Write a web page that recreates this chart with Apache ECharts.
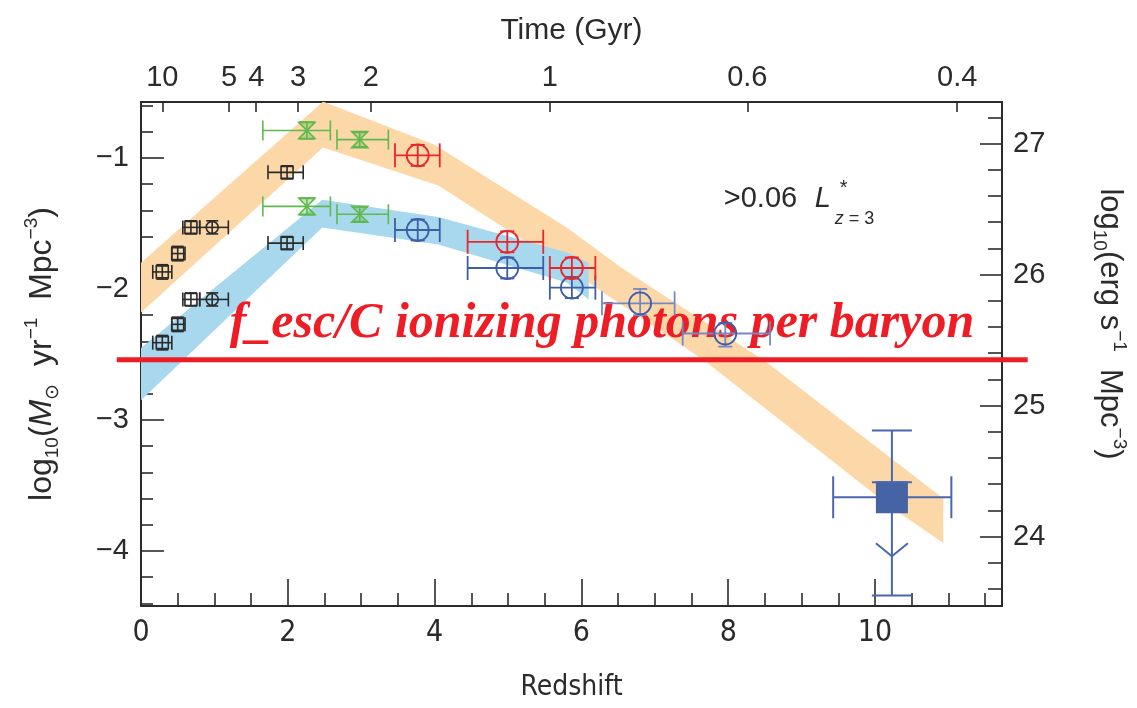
<!DOCTYPE html>
<html>
<head>
<meta charset="utf-8">
<title>Cosmic star-formation rate density</title>
<script src="https://cdn.jsdelivr.net/npm/echarts@6/dist/echarts.min.js"></script>
<style>
  html, body { margin: 0; padding: 0; background: #ffffff; }
  #chart { width: 1137px; height: 708px; }
</style>
</head>
<body>
<div id="chart"></div>
<script>
// ---- axis ranges -------------------------------------------------------
const X_MIN = 0, X_MAX = 11.73;          // redshift
const Y_MIN = -4.42, Y_MAX = -0.573;     // log10 SFR density
const LUM_OFFSET = 27.89;                // log10 UV luminosity density = log10 SFRD + offset

// ---- tick values and labels -------------------------------------------
const redshiftTicks = [0, 2, 4, 6, 8, 10];
const redshiftMinorTicks = [0.5, 1, 1.5, 2.5, 3, 3.5, 4.5, 5, 5.5, 6.5, 7, 7.5, 8.5, 9, 9.5, 10.5, 11, 11.5];
const sfrTicks = [-4, -3, -2, -1];
const sfrMinorTicks = [-4.4, -4.2, -3.8, -3.6, -3.4, -3.2, -2.8, -2.6, -2.4, -2.2, -1.8, -1.6, -1.4, -1.2, -0.8, -0.6];
const lumTicks = [24, 25, 26, 27];
const lumMinorTicks = [23.6, 23.8, 24.2, 24.4, 24.6, 24.8, 25.2, 25.4, 25.6, 25.8, 26.2, 26.4, 26.6, 26.8, 27.2];
const timeTickLabels = ['10', '5', '4', '3', '2', '1', '0.6', '0.4'];
const timeTickRedshifts = [0.29, 1.20, 1.57, 2.14, 3.13, 5.57, 8.26, 11.12];

// ---- model bands: [redshift, log10 SFRD] along upper and lower edges ---
const totalBandUpper = [[0, -1.80], [2.48, -0.57], [4.0, -0.90], [5.8, -1.53], [6.55, -1.84], [8.5, -2.55], [10.93, -3.60]];
const totalBandLower = [[0, -2.18], [2.48, -0.92], [4.05, -1.21], [5.8, -1.84], [7.66, -2.54], [10.23, -3.67], [10.93, -3.94]];
const observedBandUpper = [[0, -2.45], [2.47, -1.32], [4.05, -1.45], [5.8, -1.72], [6.1, -1.80]];
const observedBandLower = [[0, -2.85], [2.47, -1.53], [4.05, -1.66], [5.8, -1.95], [6.1, -2.08]];

// ---- UV-selected samples at z < 2.5 (black) ---------------------------
const lowZ_z      = [0.29, 0.50, 0.68, 0.97, 1.99];
const lowZ_zLo    = [0.16, 0.42, 0.57, 0.80, 1.73];
const lowZ_zHi    = [0.42, 0.60, 0.80, 1.19, 2.21];
const lowZ_dust   = [-1.87, -1.73, -1.53, -1.53, -1.11];
const lowZ_obs    = [-2.41, -2.27, -2.08, -2.08, -1.65];
const lowZ_err    = [0.055, 0.055, 0.05, 0.05, 0.05];
const lowZ_marker = ['square', 'square', 'square', 'circle', 'square'];

// ---- z ~ 2-3 LBG samples (green) --------------------------------------
const midZ_z    = [2.26, 2.98];
const midZ_zLo  = [1.66, 2.67];
const midZ_zHi  = [2.58, 3.37];
const midZ_dust = [-0.79, -0.86];
const midZ_obs  = [-1.37, -1.43];
const midZ_err  = [0.065, 0.055];

// ---- z ~ 4-6 dropouts: dust corrected (red) and observed (blue) --------
const hiZ_z    = [3.77, 4.99, 5.87];
const hiZ_zLo  = [3.46, 4.45, 5.57];
const hiZ_zHi  = [4.07, 5.48, 6.19];
const hiZ_dust = [-0.98, -1.64, -1.84];
const hiZ_obs  = [-1.55, -1.84, -1.99];
const hiZ_err  = [0.08, 0.08, 0.08];

// ---- z ~ 7-8 dropouts (observed) --------------------------------------
const z78_z   = [6.80, 7.96];
const z78_zLo = [6.28, 7.38];
const z78_zHi = [7.27, 8.57];
const z78_v   = [-2.11, -2.34];
const z78_vLo = [-2.20, -2.44];
const z78_vHi = [-2.00, -2.26];

// ---- z ~ 10 candidate (upper limit) -----------------------------------
const z10_z     = [10.23];
const z10_zLo   = [9.43];
const z10_zHi   = [11.04];
const z10_v     = [-3.59];
const z10_vLo   = [-4.34];
const z10_vHi   = [-3.08];
const z10_arrow = [-4.04];

// ---- ionizing photon budget level -------------------------------------
const photonBudgetLevel = -2.54;
const photonBudgetSpan = [-0.33, 12.08];

// -----------------------------------------------------------------------
const SANS = "'Liberation Sans', Arial, Helvetica, sans-serif";
const NARROW = "'Liberation Sans Narrow', 'DejaVu Sans Condensed', 'Liberation Sans', sans-serif";
const SERIF = "'Liberation Serif', 'Times New Roman', serif";
const INK = '#2b2b2b';
const GREEN = '#5fb94c';
const RED = '#e8262d';
const BLUE = '#3e5ea8';
const PALE_BLUE = '#7489c4';
const BUDGET_RED = '#ee1d25';

function rowsOf(z, v, zLo, zHi, vLo, vHi, extra) {
  return z.map((_, i) => {
    const r = [z[i], v[i], zLo[i], zHi[i], vLo[i], vHi[i]];
    if (extra) r.push(extra[i]);
    return r;
  });
}
function symmetricRows(z, v, zLo, zHi, err) {
  return rowsOf(z, v, zLo, zHi, v.map((y, i) => y - err[i]), v.map((y, i) => y + err[i]));
}

function bandSeries(name, upper, lower, color, z) {
  return {
    type: 'custom', name, xAxisIndex: 0, yAxisIndex: 0, z, silent: true, clip: true,
    data: [upper[0]],
    renderItem(params, api) {
      const pts = upper.map(p => api.coord(p))
        .concat(lower.slice().reverse().map(p => api.coord(p)));
      return { type: 'polygon', shape: { points: pts }, style: { fill: color } };
    }
  };
}

function errorSeries(name, rows, st) {
  return {
    type: 'custom', name, xAxisIndex: 0, yAxisIndex: 0, z: st.z || 10, silent: true, clip: false,
    encode: { x: 0, y: 1 },
    data: rows,
    renderItem(params, api) {
      const z = api.value(0), v = api.value(1);
      const c = api.coord([z, v]);
      const xl = api.coord([api.value(2), v])[0];
      const xr = api.coord([api.value(3), v])[0];
      const yb = api.coord([z, api.value(4)])[1];
      const yt = api.coord([z, api.value(5)])[1];
      const lw = st.lineWidth || 1.6;
      const barColor = st.barColor || st.color;
      const kids = [];
      const seg = (x1, y1, x2, y2) => kids.push({
        type: 'line', shape: { x1, y1, x2, y2 }, style: { stroke: barColor, lineWidth: lw }
      });
      seg(xl, c[1], xr, c[1]);
      seg(xl, c[1] - st.capX, xl, c[1] + st.capX);
      seg(xr, c[1] - st.capX, xr, c[1] + st.capX);
      seg(c[0], yt, c[0], yb);
      seg(c[0] - st.capY, yt, c[0] + st.capY, yt);
      seg(c[0] - st.capY, yb, c[0] + st.capY, yb);
      const marker = st.markers ? st.markers[params.dataIndex] : st.marker;
      const m = st.size / 2;
      const ms = { stroke: st.color, lineWidth: lw, fill: st.fill || 'none' };
      if (marker === 'square') {
        kids.push({ type: 'rect', shape: { x: c[0] - m, y: c[1] - m, width: st.size, height: st.size }, style: ms });
      } else if (marker === 'circle') {
        kids.push({ type: 'circle', shape: { cx: c[0], cy: c[1], r: m }, style: ms });
      } else if (marker === 'hourglass') {
        kids.push({ type: 'polygon', shape: { points: [[c[0] - m, c[1] - m], [c[0] + m, c[1] - m], [c[0] - m, c[1] + m], [c[0] + m, c[1] + m]] }, style: ms });
      }
      if (st.markerCap) {
        seg(c[0] - st.capY, c[1] - m, c[0] + st.capY, c[1] - m);
      }
      if (st.arrow) {
        const ya = api.coord([z, api.value(6)])[1];
        kids.push({ type: 'polyline', shape: { points: [[c[0] - 16, ya - 13], [c[0], ya], [c[0] + 16, ya - 13]] },
          style: { stroke: barColor, lineWidth: lw, fill: 'none' } });
      }
      return { type: 'group', children: kids };
    }
  };
}

const axisLineStyle = { color: INK, width: 2 };
const tickStyle = { color: INK, width: 1.6 };
const LABEL_SIZE = 29;
const NAME_SIZE = 30;

function nameRich(size) {
  const sub = Math.round(size * 0.6);
  return {
    r: { fontSize: size, fontFamily: SANS, color: INK, lineHeight: size + 8 },
    i: { fontSize: size, fontFamily: SANS, color: INK, fontStyle: 'italic', lineHeight: size + 8 },
    s: { fontSize: sub, fontFamily: SANS, color: INK, verticalAlign: 'bottom', lineHeight: size + 8 },
    p: { fontSize: sub, fontFamily: SANS, color: INK, verticalAlign: 'top', lineHeight: size + 8 }
  };
}

const option = {
  animation: false,
  backgroundColor: '#ffffff',
  grid: { left: 141, right: 135, top: 102, bottom: 102, containLabel: false, outerBoundsMode: 'none' },
  xAxis: [
    {
      type: 'value', min: X_MIN, max: X_MAX, position: 'bottom',
      axisLine: { show: true, onZero: false, lineStyle: axisLineStyle },
      axisTick: { show: true, inside: true, length: 27, customValues: redshiftTicks, lineStyle: tickStyle },
      axisLabel: { show: true, customValues: redshiftTicks, margin: 12, fontSize: 30, color: INK, fontFamily: NARROW },
      splitLine: { show: false },
      name: 'Redshift', nameLocation: 'middle', nameGap: 68,
      nameTextStyle: { fontSize: 28, color: INK, fontFamily: NARROW }
    },
    {
      type: 'value', min: X_MIN, max: X_MAX, position: 'bottom',
      axisLine: { show: false, onZero: false },
      axisTick: { show: true, inside: true, length: 13, customValues: redshiftMinorTicks, lineStyle: tickStyle },
      axisLabel: { show: false }, splitLine: { show: false }
    },
    {
      type: 'value', min: X_MIN, max: X_MAX, position: 'top',
      axisLine: { show: true, onZero: false, lineStyle: axisLineStyle },
      axisTick: { show: true, inside: true, length: 10, customValues: timeTickRedshifts, lineStyle: tickStyle },
      axisLabel: {
        show: true, customValues: timeTickRedshifts, margin: 10, fontSize: LABEL_SIZE, color: INK, fontFamily: SANS,
        formatter: (val) => {
          const i = timeTickRedshifts.findIndex(t => Math.abs(t - val) < 1e-6);
          return i >= 0 ? timeTickLabels[i] : '';
        }
      },
      splitLine: { show: false },
      name: 'Time (Gyr)', nameLocation: 'middle', nameGap: 56,
      nameTextStyle: { fontSize: NAME_SIZE, color: INK, fontFamily: SANS }
    }
  ],
  yAxis: [
    {
      type: 'value', min: Y_MIN, max: Y_MAX, position: 'left',
      axisLine: { show: true, onZero: false, lineStyle: axisLineStyle },
      axisTick: { show: true, inside: true, length: 23, customValues: sfrTicks, lineStyle: tickStyle },
      axisLabel: { show: true, customValues: sfrTicks, margin: 12, fontSize: LABEL_SIZE, color: INK, fontFamily: SANS,
        formatter: (v) => String(v).replace('-', '\u2212') },
      splitLine: { show: false },
      name: '{r|log}{s|10}{r|(}{i|M}{s|\u2299}{r|  yr}{p|\u22121}{r|  Mpc}{p|\u22123}{r|)}',
      nameLocation: 'middle', nameGap: 79,
      nameTextStyle: { color: INK, fontFamily: SANS, rich: nameRich(32) }
    },
    {
      type: 'value', min: Y_MIN, max: Y_MAX, position: 'left',
      axisLine: { show: false, onZero: false },
      axisTick: { show: true, inside: true, length: 12, customValues: sfrMinorTicks, lineStyle: tickStyle },
      axisLabel: { show: false }, splitLine: { show: false }
    },
    {
      type: 'value', min: Y_MIN + LUM_OFFSET, max: Y_MAX + LUM_OFFSET, position: 'right',
      axisLine: { show: true, onZero: false, lineStyle: axisLineStyle },
      axisTick: { show: true, inside: true, length: 22, customValues: lumTicks, lineStyle: tickStyle },
      axisLabel: { show: true, customValues: lumTicks, margin: 11, fontSize: LABEL_SIZE, color: INK, fontFamily: SANS },
      splitLine: { show: false },
      name: '{r|log}{s|10}{r|(erg s}{p|\u22121}{r|  Mpc}{p|\u22123}{r|)}',
      nameLocation: 'middle', nameGap: 88, nameRotate: -90,
      nameTextStyle: { color: INK, fontFamily: SANS, padding: [0, 60, 0, 0], rich: nameRich(31) }
    },
    {
      type: 'value', min: Y_MIN + LUM_OFFSET, max: Y_MAX + LUM_OFFSET, position: 'right',
      axisLine: { show: false, onZero: false },
      axisTick: { show: true, inside: true, length: 14, customValues: lumMinorTicks, lineStyle: tickStyle },
      axisLabel: { show: false }, splitLine: { show: false }
    }
  ],
  series: [
    bandSeries('Dust corrected', totalBandUpper, totalBandLower, '#fcd8a9', 1),
    bandSeries('Observed', observedBandUpper, observedBandLower, '#a7d8ee', 2),
    errorSeries('z<2 dust corrected', symmetricRows(lowZ_z, lowZ_dust, lowZ_zLo, lowZ_zHi, lowZ_err),
      { color: INK, markers: lowZ_marker, size: 12, capX: 7, capY: 6, lineWidth: 1.6 }),
    errorSeries('z<2 observed', symmetricRows(lowZ_z, lowZ_obs, lowZ_zLo, lowZ_zHi, lowZ_err),
      { color: INK, markers: lowZ_marker, size: 12, capX: 7, capY: 6, lineWidth: 1.6 }),
    errorSeries('z~2-3 dust corrected', symmetricRows(midZ_z, midZ_dust, midZ_zLo, midZ_zHi, midZ_err),
      { color: GREEN, marker: 'hourglass', size: 16, capX: 10, capY: 8, lineWidth: 1.6, fill: 'rgba(95,185,76,0.35)' }),
    errorSeries('z~2-3 observed', symmetricRows(midZ_z, midZ_obs, midZ_zLo, midZ_zHi, midZ_err),
      { color: GREEN, marker: 'hourglass', size: 16, capX: 10, capY: 8, lineWidth: 1.6, fill: 'rgba(95,185,76,0.35)' }),
    errorSeries('z~4-6 observed', symmetricRows(hiZ_z, hiZ_obs, hiZ_zLo, hiZ_zHi, hiZ_err),
      { color: BLUE, marker: 'circle', size: 22, capX: 12, capY: 7, lineWidth: 1.8 }),
    errorSeries('z~4-6 dust corrected', symmetricRows(hiZ_z, hiZ_dust, hiZ_zLo, hiZ_zHi, hiZ_err),
      { color: RED, marker: 'circle', size: 22, capX: 12, capY: 7, lineWidth: 1.8 }),
    errorSeries('z~7-8 observed', rowsOf(z78_z, z78_v, z78_zLo, z78_zHi, z78_vLo, z78_vHi),
      { color: BLUE, barColor: PALE_BLUE, marker: 'circle', size: 22, capX: 12, capY: 7, lineWidth: 1.8 }),
    errorSeries('z~10 limit', rowsOf(z10_z, z10_v, z10_zLo, z10_zHi, z10_vLo, z10_vHi, z10_arrow),
      { color: '#4563a5', barColor: '#4a67ad', marker: 'square', size: 30, fill: '#4563a5', capX: 21, capY: 20,
        lineWidth: 2, arrow: true, markerCap: true })
  ]
};

const chart = echarts.init(document.getElementById('chart'), null, { renderer: 'canvas' });
chart.setOption(option);

// annotations anchored in data coordinates
const toPx = (z, v) => chart.convertToPixel({ gridIndex: 0 }, [z, v]);
const budgetStart = toPx(photonBudgetSpan[0], photonBudgetLevel);
const budgetEnd = toPx(photonBudgetSpan[1], photonBudgetLevel);
const budgetLabelAt = toPx(6.28, -2.265);
const lumLimitAt = toPx(7.94, -1.313);

chart.setOption({
  graphic: [
    {
      type: 'line', z: 4, silent: true,
      shape: { x1: budgetStart[0], y1: budgetStart[1], x2: budgetEnd[0], y2: budgetEnd[1] },
      style: { stroke: BUDGET_RED, lineWidth: 5 }
    },
    {
      type: 'text', z: 3, x: budgetLabelAt[0], y: budgetLabelAt[1], silent: true,
      style: {
        text: 'f_esc/C ionizing photons per baryon',
        fill: BUDGET_RED, fontFamily: SERIF, fontSize: 50, fontStyle: 'italic', fontWeight: 'bold',
        align: 'center', verticalAlign: 'middle'
      }
    },
    {
      type: 'group', x: lumLimitAt[0], y: lumLimitAt[1], z: 3, silent: true,
      children: [
        { type: 'text', x: 0, y: 0, style: { text: '>0.06', fill: INK, fontFamily: SANS, fontSize: 29, align: 'left', verticalAlign: 'middle' } },
        { type: 'text', x: 91, y: 0, style: { text: 'L', fill: INK, fontFamily: SANS, fontSize: 29, fontStyle: 'italic', align: 'left', verticalAlign: 'middle' } },
        { type: 'text', x: 116, y: -10, style: { text: '*', fill: INK, fontFamily: SANS, fontSize: 20, align: 'left', verticalAlign: 'middle' } },
        { type: 'text', x: 111, y: 20, style: { text: '{i|z}{n| = 3}', fill: INK, fontFamily: SANS, fontSize: 18, align: 'left', verticalAlign: 'middle',
          rich: { i: { fontStyle: 'italic', fontSize: 18, fontFamily: SANS, fill: INK }, n: { fontSize: 18, fontFamily: SANS, fill: INK } } } }
      ]
    }
  ]
});
</script>
</body>
</html>
